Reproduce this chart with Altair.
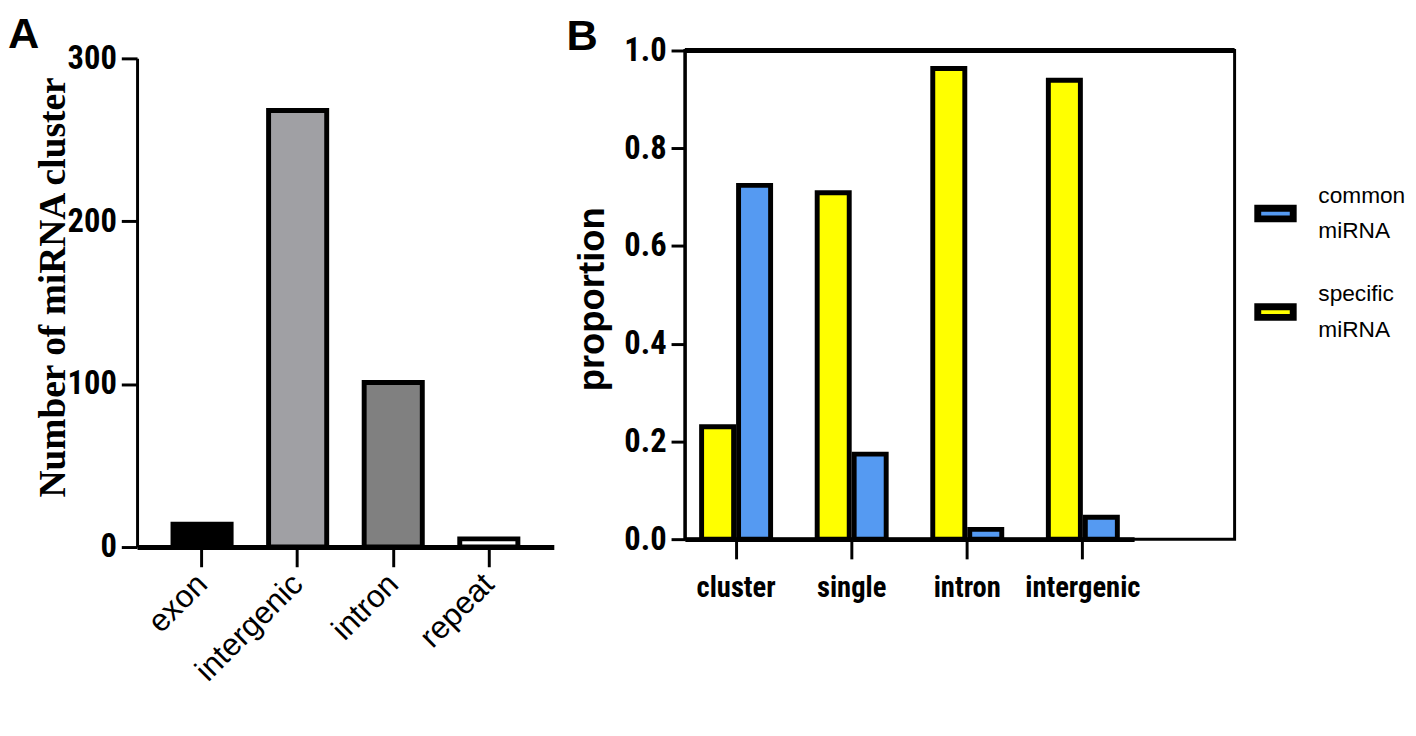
import altair as alt
import pandas as pd

# ---------------- Panel A data ----------------
a_categories = ["exon", "intergenic", "intron", "repeat"]
a_counts = [14, 268, 101, 5]
a_colors = ["#000000", "#A0A0A4", "#808080", "#FFFFFF"]
a_ticks = [0, 100, 200, 300]

# ---------------- Panel B data ----------------
b_categories = ["cluster", "single", "intron", "intergenic"]
b_specific = [0.23, 0.709, 0.963, 0.939]
b_common = [0.724, 0.174, 0.020, 0.045]
b_series = ["common miRNA", "specific miRNA"]
b_colors = ["#559AF2", "#FFFF00"]
b_ticks = [0.0, 0.2, 0.4, 0.6, 0.8, 1.0]
b_frame_top = [1.0]

NARROW = "Liberation Sans Narrow, Arial Narrow, Roboto Condensed, DejaVu Sans Condensed, sans-serif"
SANS = "Liberation Sans, Arial, sans-serif"
SERIF = "Liberation Serif, Times New Roman, serif"

df_a = pd.DataFrame({"region": a_categories, "count": a_counts})

chart_a = alt.Chart(df_a).mark_bar(stroke="black", strokeWidth=5).encode(
    x=alt.X(
        "region:N", sort=a_categories,
        scale=alt.Scale(range=[0, 423], paddingInner=0.392, paddingOuter=0.376),
        axis=alt.Axis(title=None, labelAngle=-45, labelAlign="right", labelBaseline="middle",
                      labelFont=SANS, labelFontSize=32, labelFontWeight="normal",
                      labelPadding=12, tickSize=20, tickWidth=3, domainWidth=5,
                      domainColor="black", tickColor="black", labelColor="black"),
    ),
    y=alt.Y(
        "count:Q", scale=alt.Scale(domain=[0, 300], range=[504, 8]),
        axis=alt.Axis(values=a_ticks, title="Number of miRNA cluster", titleFont=SERIF,
                      titleFontSize=38, titleFontWeight="bold", titleX=-74, titleY=240,
                      titleAngle=-90, titleBaseline="alphabetic", titleAlign="center",
                      titleColor="black",
                      labelFont=NARROW, labelFontSize=33, labelFontWeight="bold",
                      tickSize=16, tickWidth=3, domainWidth=3, grid=False, labelPadding=5,
                      domainColor="black", tickColor="black", labelColor="black"),
    ),
    color=alt.Color("region:N", scale=alt.Scale(domain=a_categories, range=a_colors), legend=None),
).properties(
    width=419, height=504,
    view=alt.ViewBackground(stroke="transparent", strokeWidth=0),
    title=alt.TitleParams("A", anchor="start", frame="group", dx=-131, fontSize=44,
                          fontWeight="bold", font=SANS, offset=-14, color="black"),
)

rows = []
for c, s, m in zip(b_categories, b_specific, b_common):
    rows.append({"category": c, "series": "specific miRNA", "value": s})
    rows.append({"category": c, "series": "common miRNA", "value": m})
df_b = pd.DataFrame(rows)

bars_b = alt.Chart(df_b).mark_bar(stroke="black", strokeWidth=5).encode(
    x=alt.X(
        "category:N", sort=b_categories,
        scale=alt.Scale(range=[0, 456], paddingInner=0.403, paddingOuter=0.145),
        axis=alt.Axis(title=None, labelAngle=0, labelFont=NARROW, labelFontSize=29,
                      labelFontWeight="bold", labelPadding=15, tickSize=20, tickWidth=3,
                      domainWidth=5, domainColor="black", tickColor="black",
                      labelColor="black"),
    ),
    xOffset=alt.XOffset("series:N", sort=["specific miRNA", "common miRNA"],
                        scale=alt.Scale(paddingInner=0.133, paddingOuter=0)),
    y=alt.Y(
        "value:Q", scale=alt.Scale(domain=[0, 1]),
        axis=alt.Axis(values=b_ticks, format=".1f", title="proportion", titleFont=SANS,
                      titleFontSize=37, titleFontWeight="bold", titleX=-83, titleY=252,
                      titleAngle=-90, titleBaseline="alphabetic", titleAlign="center",
                      titleColor="black",
                      labelFont=NARROW, labelFontSize=33, labelFontWeight="bold",
                      tickSize=14, tickWidth=3, domainWidth=3, grid=False, labelPadding=5,
                      domainColor="black", tickColor="black", labelColor="black"),
    ),
    color=alt.Color(
        "series:N", scale=alt.Scale(domain=b_series, range=b_colors),
        legend=alt.Legend(title=None, orient="none", legendX=578, legendY=144, padding=0,
                          symbolType="M-1,-0.3H1V0.3H-1Z", symbolSize=1296,
                          symbolStrokeColor="black", symbolStrokeWidth=7,
                          labelFont=SANS, labelFontSize=23, labelColor="black",
                          labelBaseline="line-bottom",
                          labelExpr="split(datum.label, ' ')", labelOffset=22,
                          rowPadding=40, labelLimit=200),
    ),
)

top_b = alt.Chart(pd.DataFrame({"y": b_frame_top})).mark_rule(strokeWidth=5, color="black").encode(
    y=alt.Y("y:Q")
)

chart_b = alt.layer(bars_b, top_b).properties(
    width=558, height=496,
    view=alt.ViewBackground(stroke="black", strokeWidth=3),
    title=alt.TitleParams("B", anchor="start", frame="group", dx=-120, fontSize=44,
                          fontWeight="bold", font=SANS, offset=-24, color="black"),
)

chart = alt.hconcat(chart_a, chart_b, spacing=11).resolve_scale(
    color="independent"
).properties(padding=0).configure(
    style={"guide-label": {"lineHeight": 36}},
    view=alt.ViewConfig(stroke="transparent"),
)

chart.save("out.html", embed_options={"renderer": "svg", "actions": False})
